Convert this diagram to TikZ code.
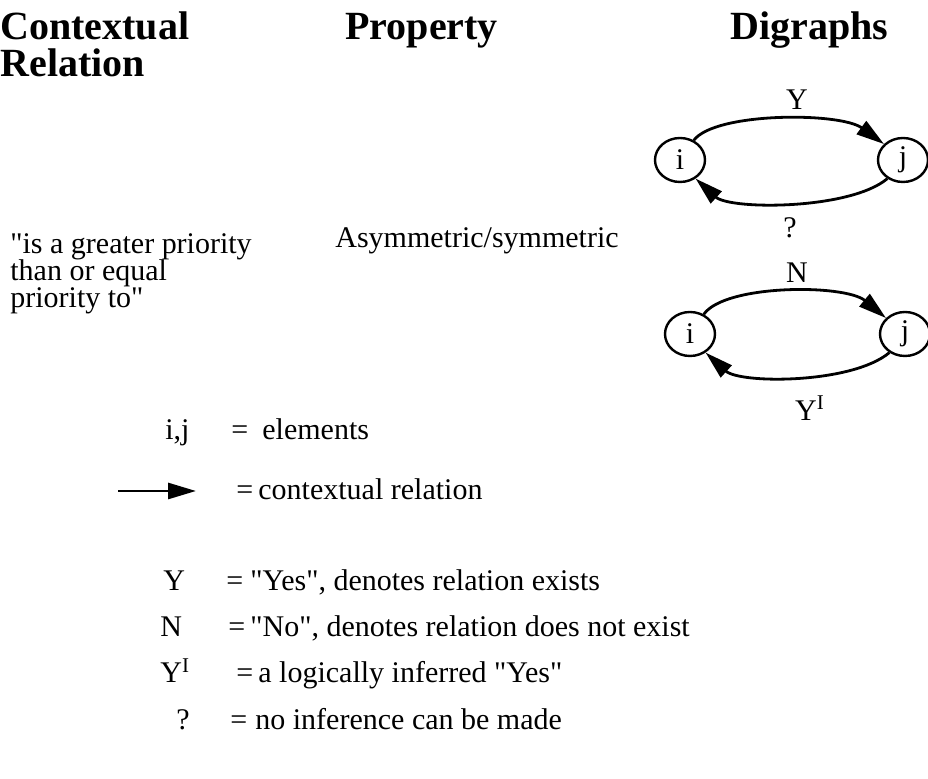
\documentclass[tikz,border=0pt]{standalone}
\usepackage{fontspec}
\setmainfont{Liberation Serif}
\usetikzlibrary{arrows.meta,positioning,shapes.geometric}
\newcommand{\dq}{\textquotedbl}
\setlength{\lineskiplimit}{-20pt}
\tikzset{
  heading/.style={font=\fontsize{20}{18.5}\selectfont\bfseries, inner sep=0pt, align=left},
  bodytext/.style={font=\fontsize{15}{13.6}\selectfont, inner sep=0pt, anchor=base west},
  elemnode/.style={ellipse, draw, line width=1.2pt, minimum width=25pt, minimum height=22pt,
    inner sep=0pt, font=\fontsize{15}{15}\selectfont},
  relarrow/.style={-{Triangle[length=14pt,width=8pt]}, line width=1.4pt},
  edgelabel/.style={font=\fontsize{15}{15}\selectfont, inner sep=0pt},
}

\begin{document}
\begin{tikzpicture}[x=0.5pt, y=-0.5pt]
    \useasboundingbox (0,0) rectangle (928,779);
    % column headings
    \node[heading, anchor=north west] (hdrelation) at (0,11) {Contextual\\Relation};
    \node[heading, anchor=base west] (hdproperty) at (345,40) {Property};
    \node[heading, anchor=base west] (hddigraph) at (730,40) {Digraphs};

    \node[bodytext, anchor=north west, align=left] (relation) at (10,233)
      {\dq is a greater priority\\than or equal\\priority to\dq};
    \node[bodytext] (property) at (335,248) {Asymmetric/symmetric};

    % first digraph
    \node[elemnode] (ione) at (680,160) {i};
    \node[elemnode] (jone) at (903,160) {j};
    \draw[relarrow] (ione.55) .. controls (715,112) and (840,112) .. (jone.140);
    \draw[relarrow] (jone.-130) .. controls (850,210) and (730,210) .. (ione.-50);
    \node[edgelabel] (lblY) at (797,100) {Y};
    \node[edgelabel] (lblQ) at (790,228) {?};

    % second digraph
    \node[elemnode] (itwo) at (690,334) {i};
    \node[elemnode] (jtwo) at (905,334) {j};
    \draw[relarrow] (itwo.55) .. controls (725,284) and (845,284) .. (jtwo.140);
    \draw[relarrow] (jtwo.-130) .. controls (852,384) and (740,384) .. (itwo.-50);
    \node[edgelabel] (lblN) at (797,273) {N};
    \node[edgelabel] (lblYI) at (810,408) {Y\textsuperscript{I}};

    % legend
    \node[bodytext] (symij) at (165,440) {i,j};
    \node[bodytext] (eqij) at (231,440) {=};
    \node[bodytext] (txtij) at (262,440) {elements};

    \coordinate (arrowtail) at (118,491);
    \coordinate (arrowtip) at (196,491);
    \draw[relarrow] (arrowtail) -- (arrowtip);
    \node[bodytext] (eqarrow) at (236,500) {=};
    \node[bodytext] (txtarrow) at (258,500) {contextual relation};

    \node[bodytext] (symY) at (163,591) {Y};
    \node[bodytext] (eqY) at (226,591) {=};
    \node[bodytext] (txtY) at (250,591) {\dq Yes\dq, denotes relation exists};

    \node[bodytext] (symN) at (160,637) {N};
    \node[bodytext] (eqN) at (228,637) {=};
    \node[bodytext] (txtN) at (250,637) {\dq No\dq, denotes relation does not exist};

    \node[bodytext] (symYI) at (160,683) {Y\textsuperscript{I}};
    \node[bodytext] (eqYI) at (236,683) {=};
    \node[bodytext] (txtYI) at (258,683) {a logically inferred \dq Yes\dq};

    \node[bodytext] (symQ) at (176,730) {?};
    \node[bodytext] (eqQ) at (230,730) {=};
    \node[bodytext] (txtQ) at (255,730) {no inference can be made};
  \end{tikzpicture}
\end{document}
